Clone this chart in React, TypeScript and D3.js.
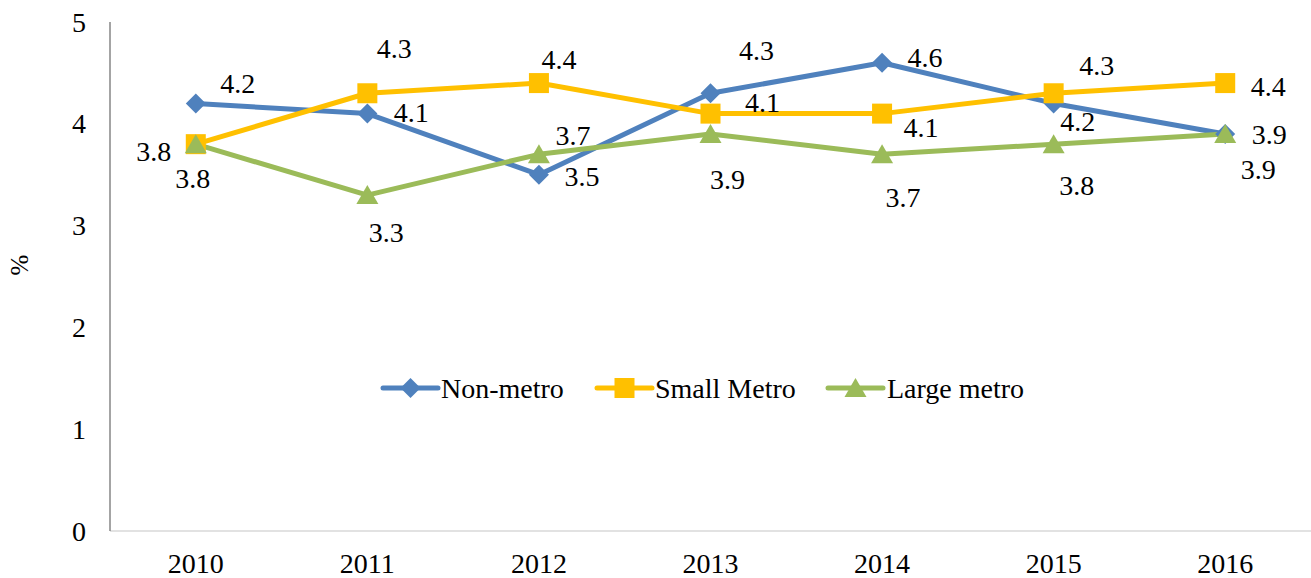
import React from "react";
import * as d3 from "d3";

const years = ["2010", "2011", "2012", "2013", "2014", "2015", "2016"];
const nonMetro = [4.2, 4.1, 3.5, 4.3, 4.6, 4.2, 3.9];
const smallMetro = [3.8, 4.3, 4.4, 4.1, 4.1, 4.3, 4.4];
const largeMetro = [3.8, 3.3, 3.7, 3.9, 3.7, 3.8, 3.9];
const yTicks = [0, 1, 2, 3, 4, 5];

// label offsets (dx, dy) relative to each point
const nonMetroOff = [[42, -20], [44, -1], [43, 2], [46, -43], [43, -5], [24, 18], [44, 1]];
const smallMetroOff = [[-42, 7], [27, -45], [20, -24], [52, -11], [39, 14], [43, -28], [43, 3]];
const largeMetroOff = [[-3, 34], [19, 37], [34, -19], [17, 46], [21, 43], [23, 41], [33, 36]];

const W = 1311, H = 578;
const left = 110, right = 1311, top = 22, bottom = 531;
const FONT = "'Liberation Serif', 'Times New Roman', serif";
const FS = 28;

const series = [
  { name: "Non-metro", values: nonMetro, off: nonMetroOff, color: "#4F81BD", marker: "diamond" },
  { name: "Small Metro", values: smallMetro, off: smallMetroOff, color: "#FFC000", marker: "square" },
  { name: "Large metro", values: largeMetro, off: largeMetroOff, color: "#9BBB59", marker: "triangle" },
];

function Marker({ type, x, y, color }: { type: string; x: number; y: number; color: string }) {
  if (type === "diamond") {
    const s = 10;
    return <path d={`M${x},${y - s}L${x + s},${y}L${x},${y + s}L${x - s},${y}Z`} fill={color} />;
  }
  if (type === "square") {
    const s = 10;
    return <rect x={x - s} y={y - s} width={2 * s} height={2 * s} fill={color} />;
  }
  const s = 11;
  return <path d={`M${x},${y - 10}L${x + s},${y + 9}L${x - s},${y + 9}Z`} fill={color} />;
}

export default function App() {
  const x = d3.scaleBand<string>().domain(years).range([left, right]);
  const y = d3.scaleLinear().domain([0, 5]).range([bottom, top]);
  const cx = (yr: string) => (x(yr) as number) + x.bandwidth() / 2;
  const line = d3
    .line<number>()
    .x((_, i) => cx(years[i]))
    .y((v) => y(v));

  const legendItems = [
    { lx: 383, tx: 441 },
    { lx: 597, tx: 655 },
    { lx: 828, tx: 887 },
  ];
  const legendY = 388;

  return (
    <svg width={W} height={H} style={{ position: "absolute", left: 0, top: 0, background: "#fff" }} fontFamily={FONT}>
      <rect width={W} height={H} fill="#fff" />
      {/* axes */}
      <line x1={left} x2={right} y1={bottom} y2={bottom} stroke="#D9D9D9" strokeWidth={1.5} />
      <line x1={left} x2={left} y1={top} y2={bottom} stroke="#868686" strokeWidth={1.5} />
      {yTicks.map((t) => (
        <text key={t} x={86} y={y(t)} textAnchor="end" dominantBaseline="central" fontSize={FS} fill="#000">
          {t}
        </text>
      ))}
      {years.map((yr) => (
        <text key={yr} x={cx(yr)} y={563} textAnchor="middle" dominantBaseline="central" fontSize={FS} fill="#000">
          {yr}
        </text>
      ))}
      <text transform={`translate(19,265) rotate(-90)`} textAnchor="middle" dominantBaseline="central" fontSize={25} fill="#000">
        %
      </text>
      {/* lines */}
      {series.map((s) => (
        <path key={s.name} d={line(s.values) as string} fill="none" stroke={s.color} strokeWidth={5} strokeLinejoin="round" strokeLinecap="round" />
      ))}
      {series.map((s) =>
        s.values.map((v, i) => <Marker key={s.name + i} type={s.marker} x={cx(years[i])} y={y(v)} color={s.color} />)
      )}
      {series.map((s) =>
        s.values.map((v, i) => (
          <text
            key={"l" + s.name + i}
            x={cx(years[i]) + s.off[i][0]}
            y={y(v) + s.off[i][1]}
            textAnchor="middle"
            dominantBaseline="central"
            fontSize={FS}
            fill="#000"
          >
            {v.toFixed(1)}
          </text>
        ))
      )}
      {/* legend */}
      {series.map((s, i) => (
        <g key={"lg" + s.name}>
          <line x1={legendItems[i].lx} x2={legendItems[i].lx + 55} y1={legendY} y2={legendY} stroke={s.color} strokeWidth={5} strokeLinecap="round" />
          <Marker type={s.marker} x={legendItems[i].lx + 27.5} y={legendY} color={s.color} />
          <text x={legendItems[i].tx} y={legendY} dominantBaseline="central" fontSize={FS} fill="#000">
            {s.name}
          </text>
        </g>
      ))}
    </svg>
  );
}
